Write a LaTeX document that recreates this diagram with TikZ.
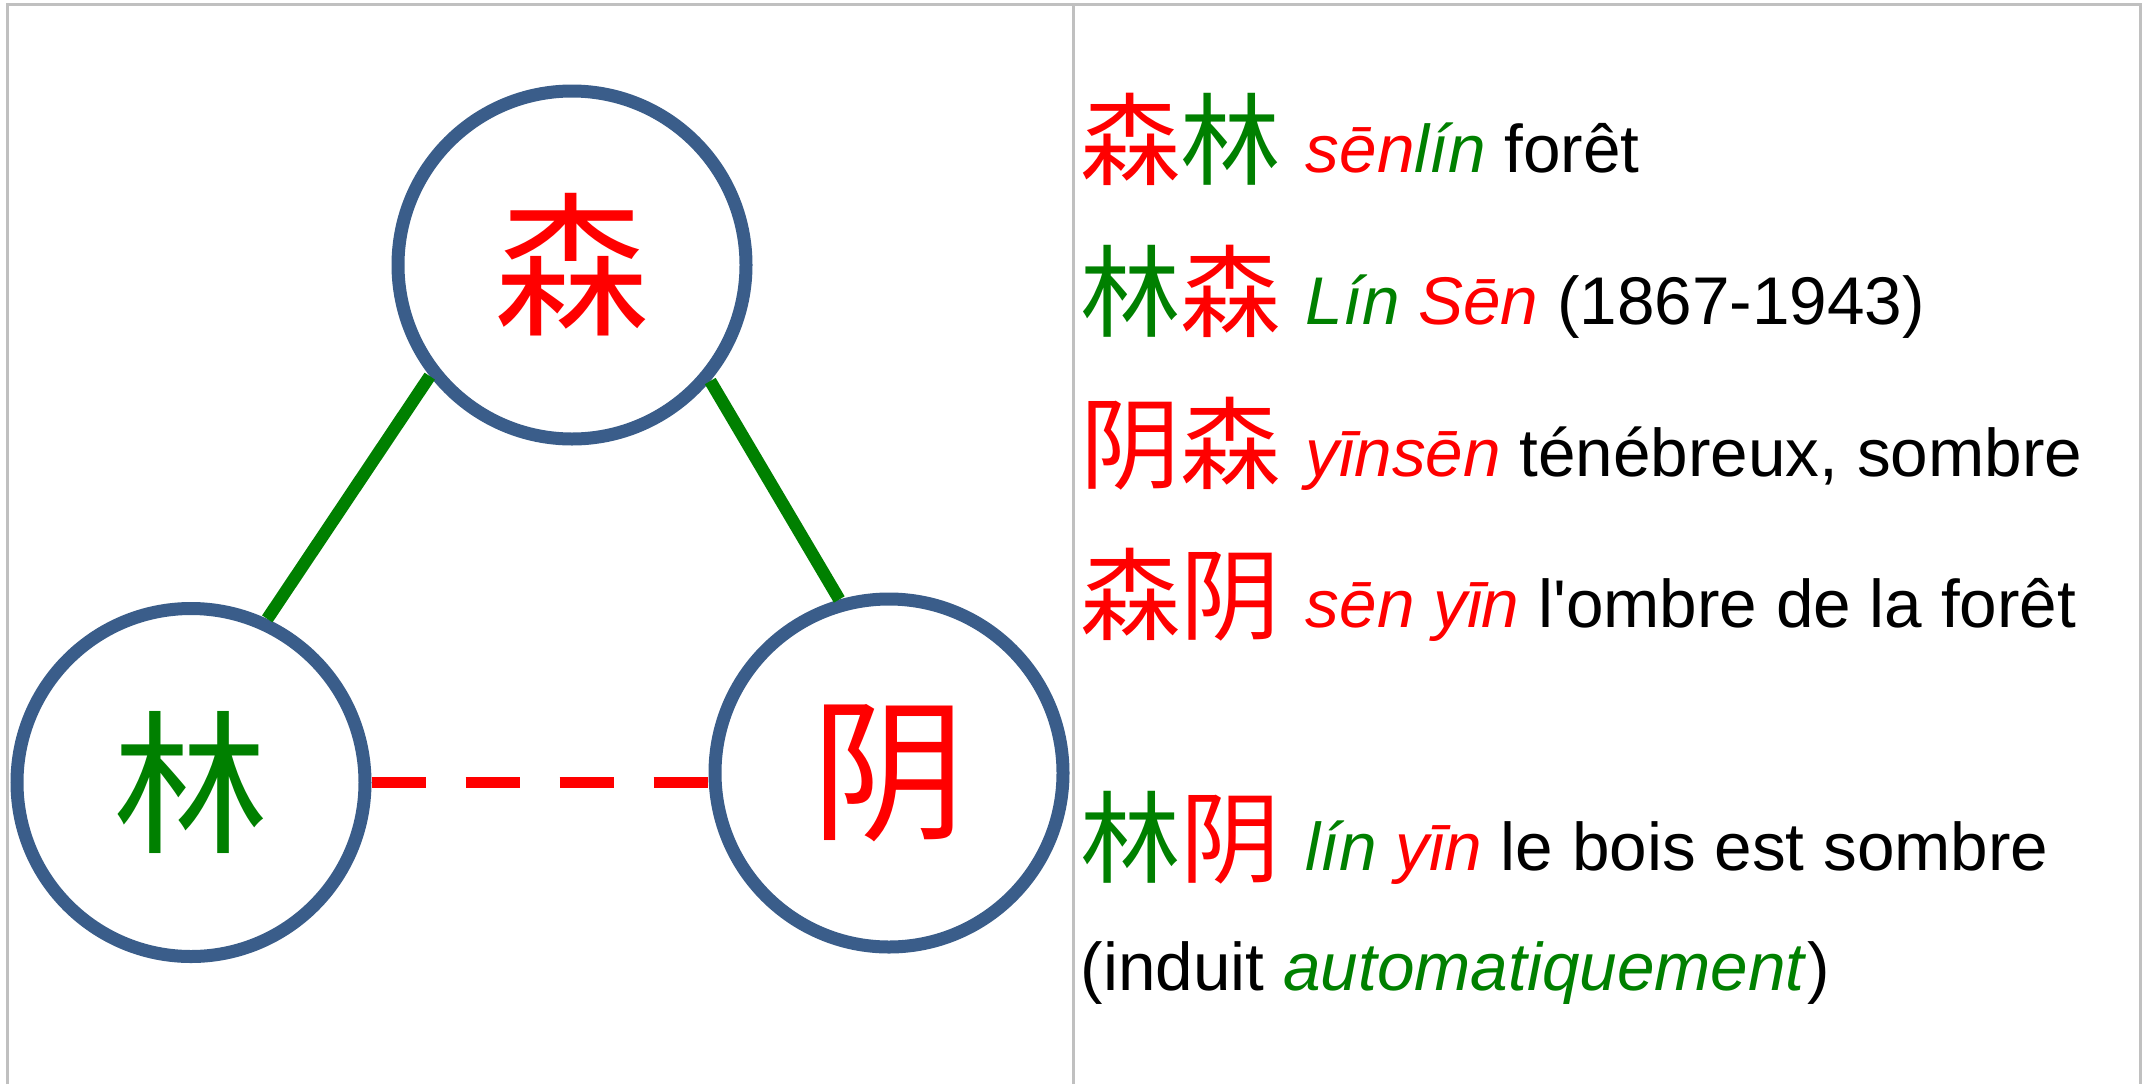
\documentclass[tikz,border=0pt]{standalone}
\usepackage{fontspec}
\setmainfont{Liberation Sans}
\newfontfamily\cjk{Noto Sans CJK SC}
\definecolor{bleu}{HTML}{3A5D8A}
\definecolor{vert}{HTML}{008000}
\definecolor{gris}{HTML}{C0C0C0}
% two characters, each with its own colour
\newcommand{\zi}[4]{\lower0.05cm\hbox{\cjk\fontsize{28.5}{30}\selectfont
  \textcolor{#1}{#2}\textcolor{#3}{#4}}\kern0.06cm\relax}
\tikzset{
  hanzi/.style={circle, draw=bleu, line width=0.13cm, minimum size=3.48cm,
    inner sep=0pt, font=\cjk\fontsize{44}{44}\selectfont},
  link/.style={draw=vert, line width=0.125cm},
  implied/.style={draw=red, line width=0.115cm, dash pattern=on 0.54cm off 0.40cm},
  gloss/.style={anchor=base west, inner sep=0pt, font=\fontsize{19.2}{23}\selectfont},
  frame/.style={draw=gris, line width=0.03cm},
}
\begin{document}
\begin{tikzpicture}
  \useasboundingbox (0,0) rectangle (21.45,10.84);
  % frame
  \draw[frame] (0.075,0) -- (0.075,10.80) -- (21.405,10.80) -- (21.405,0);
  \draw[frame] (10.735,0) -- (10.735,10.80);
  % circles
  \node[hanzi, text=red] (sen) at (5.72,8.19) {森};
  \node[hanzi, text=vert] (lin) at (1.91,3.015) {林};
  \node[hanzi, text=red] (yin) at (8.89,3.11) {阴};
  % links
  \draw[link] (sen.218) -- (lin.65);
  \draw[link] (sen.320) -- (yin.106);
  \draw[implied] (lin.east) -- (lin.east -| yin.west);
  % words
  \node[gloss] (w1) at (10.80,9.12) {\zi{red}{森}{vert}{林}
    \textcolor{red}{\textit{sēn}}\textcolor{vert}{\textit{lín}} forêt};
  \node[gloss] (w2) at (10.80,7.60) {\zi{vert}{林}{red}{森}
    \textcolor{vert}{\textit{Lín}} \textcolor{red}{\textit{Sēn}} (1867-1943)};
  \node[gloss] (w3) at (10.80,6.08) {\zi{red}{阴}{red}{森}
    \textcolor{red}{\textit{yīnsēn}} ténébreux, sombre};
  \node[gloss] (w4) at (10.80,4.57) {\zi{red}{森}{red}{阴}
    \textcolor{red}{\textit{sēn yīn}} l\textquotesingle ombre de la forêt};
  \node[gloss] (w5) at (10.80,2.14) {\zi{vert}{林}{red}{阴}
    \textcolor{vert}{\textit{lín}} \textcolor{red}{\textit{yīn}} le bois est sombre};
  \node[gloss] (w6) at (10.80,0.94) {(induit \textcolor{vert}{\textit{automatiquement}})};
\end{tikzpicture}
\end{document}
